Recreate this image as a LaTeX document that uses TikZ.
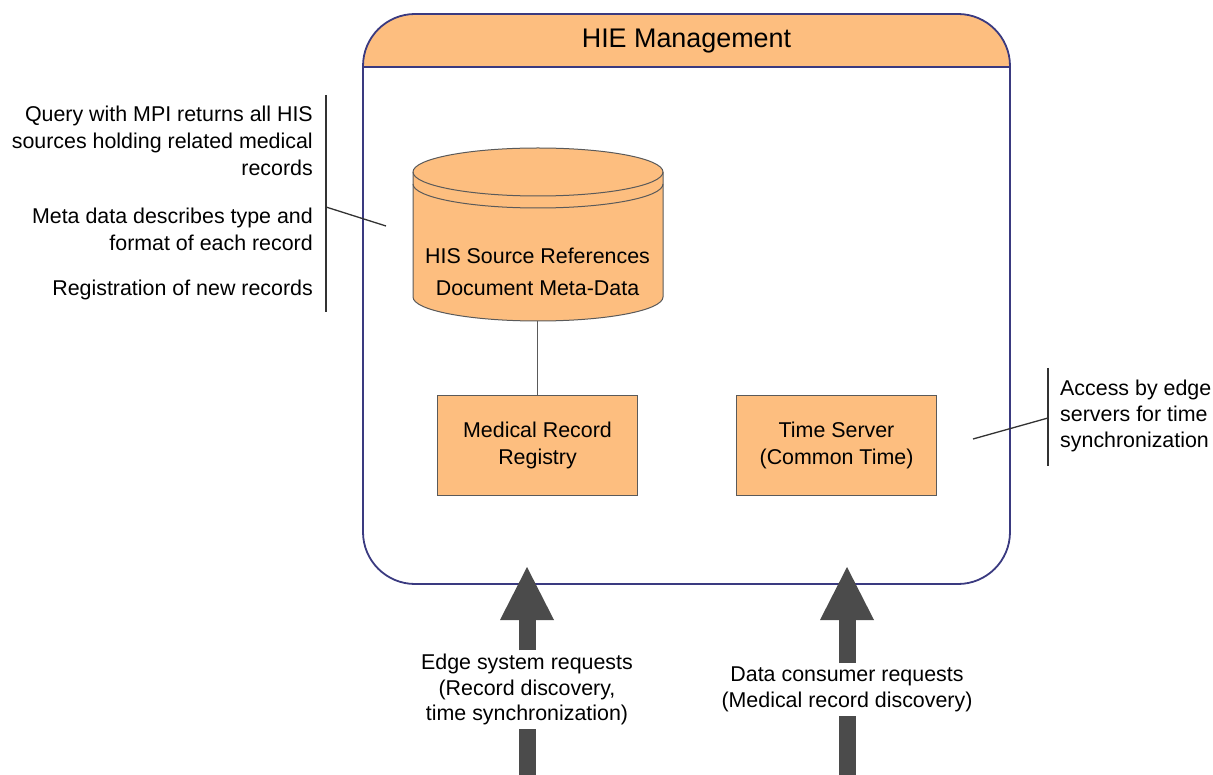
\documentclass[tikz,border=0pt]{standalone}
\usepackage{fontspec}
\setmainfont{Liberation Sans}
\usetikzlibrary{arrows.meta}
\definecolor{hieorange}{RGB}{253,190,127}
\definecolor{hienavy}{RGB}{58,58,128}
\definecolor{boxedge}{RGB}{90,90,90}
\definecolor{flowgray}{RGB}{75,75,75}
\definecolor{noteline}{RGB}{50,50,50}
\begin{document}
\begin{tikzpicture}[x=1pt,y=-1pt,
  note/.style={font=\fontsize{21.4}{27}\selectfont, inner sep=0pt},
  regbox/.style={draw=boxedge, fill=hieorange, line width=1pt,
    minimum width=200pt, minimum height=99pt, inner sep=0pt, align=center,
    font=\fontsize{21.4}{27}\selectfont},
  callout/.style={noteline, line width=1.3pt},
  flow/.style={flowgray, line width=17pt},
  flowhead/.style={-{Triangle[width=54pt,length=53pt,line width=0pt]}}]
\useasboundingbox (0,0) rectangle (1213,775);

% header band of the management frame
\fill[hieorange] (363,67) [rounded corners=52pt] -- (363,14) -- (1010,14) [sharp corners] -- (1010,67) -- cycle;
% management frame
\node[draw=hienavy, line width=1.8pt, rounded corners=52pt, minimum width=647pt,
      minimum height=570pt, inner sep=0pt] (hie) at (686.5,299) {};
\draw[hienavy, line width=1.8pt] (hie.west |- 0,67) -- (hie.east |- 0,67);
\node[font=\fontsize{26.9}{32}\selectfont, inner sep=0pt] (title) at (686.5,41) {HIE Management};

% registry database cylinder
\path[fill=hieorange, draw=boxedge, line width=1pt]
  (413,172) -- (413,297) arc[start angle=180, end angle=0, x radius=125, y radius=24]
  -- (663,172) arc[start angle=0, end angle=-180, x radius=125, y radius=24] -- cycle;
\draw[boxedge, line width=1pt] (413,172) arc[start angle=180, end angle=0, x radius=125, y radius=24];
\draw[boxedge, line width=1pt] (413,184) arc[start angle=180, end angle=0, x radius=125, y radius=24];
\node[minimum width=250pt, minimum height=174pt, inner sep=0pt] (cyl) at (537.5,234) {};
\node[note, align=center, font=\fontsize{21.4}{32}\selectfont] (cyltxt) at (537.5,272)
  {HIS Source References\\Document Meta-Data};

% services
\node[regbox] (mrr) at (537.5,445.5) {Medical Record\\Registry};
\node[regbox] (ts) at (836.5,445.5) {Time Server\\(Common Time)};
\draw[boxedge, line width=1pt] (cyl.south) -- (mrr.north);

% left annotations
\node[note, anchor=east, align=right] (q1) at (313,141)
  {Query with MPI returns all HIS\\sources holding related medical\\records};
\node[note, anchor=east, align=right] (q2) at (313,229)
  {Meta data describes type and\\format of each record};
\node[note, anchor=east, align=right] (q3) at (313,290) {Registration of new records};
\coordinate (lbtop) at (326,95);
\coordinate (lbbot) at (326,312);
\coordinate (lbmid) at (326,207);
\coordinate (lbend) at (386,226);
\draw[callout] (lbtop) -- (lbbot);
\draw[callout] (lbmid) -- (lbend);

% right annotation
\node[note, anchor=west, align=left, font=\fontsize{21.4}{26}\selectfont] (acc) at (1060,416)
  {Access by edge\\servers for time\\synchronization};
\coordinate (rbtop) at (1048,368);
\coordinate (rbbot) at (1048,466);
\coordinate (rbmid) at (1048,418);
\coordinate (rbend) at (973,439);
\draw[callout] (rbtop) -- (rbbot);
\draw[callout] (rbmid) -- (rbend);

% incoming requests
\node[note, align=center, inner ysep=3.5pt, font=\fontsize{21.4}{25.5}\selectfont] (req1) at (527,689.5)
  {Edge system requests\\(Record discovery,\\time synchronization)};
\node[note, align=center, inner ysep=3.5pt, font=\fontsize{21.4}{26}\selectfont] (req2) at (847,689.5)
  {Data consumer requests\\(Medical record discovery)};
\coordinate (in1) at (527,775);
\coordinate (tip1) at (527,567);
\coordinate (in2) at (847,775);
\coordinate (tip2) at (847,567);
\draw[flow] (in1) -- (req1.south);
\draw[flow, flowhead] (req1.north) -- (tip1);
\draw[flow] (in2) -- (req2.south);
\draw[flow, flowhead] (req2.north) -- (tip2);
\end{tikzpicture}
\end{document}
